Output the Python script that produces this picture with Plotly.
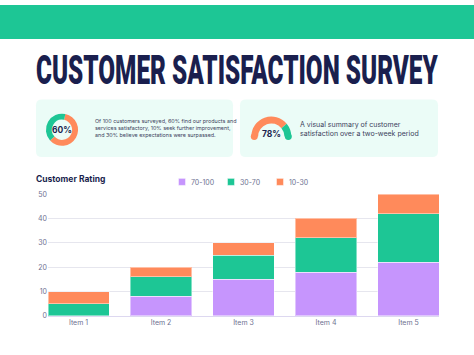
import plotly.graph_objects as go

W, H = 474, 355

# ---- data ----
items = ["Item 1", "Item 2", "Item 3", "Item 4", "Item 5"]
rating_70_100 = [0, 8, 15, 18, 22]
rating_30_70 = [5, 8, 10, 14, 20]
rating_10_30 = [5, 4, 5, 8, 8]
series_names = ["70-100", "30-70", "10-30"]
y_ticks = [0, 10, 20, 30, 40, 50]

donut_values = [60, 40]          # satisfied vs rest
gauge_value = 78                  # percent
title_text = "CUSTOMER SATISFACTION SURVEY"
chart_title = "Customer Rating"
summary_text = ("Of 100 customers surveyed, 60% find our products and<br>"
                "services satisfactory, 10% seek further improvement,<br>"
                "and 30% believe expectations were surpassed.")
gauge_text = "A visual summary of customer<br>satisfaction over a two-week period"

# ---- style ----
GREEN = "#1DC695"
ORANGE = "#FF8A5B"
PURPLE = "#C695FD"
NAVY = "#1A1F4E"
GRAY = "#6E7191"
CARD = "#EBFCF7"
FONT = "Inter, Noto Sans, sans-serif"


def px(x):
    return x / W


def py(y):
    return 1 - y / H


def rounded_rect(x0, y0, x1, y1, rad):
    """SVG path (paper units) for a rounded rectangle given in pixel coords."""
    pts = [
        "M%f,%f" % (px(x0 + rad), py(y0)),
        "L%f,%f" % (px(x1 - rad), py(y0)),
        "Q%f,%f %f,%f" % (px(x1), py(y0), px(x1), py(y0 + rad)),
        "L%f,%f" % (px(x1), py(y1 - rad)),
        "Q%f,%f %f,%f" % (px(x1), py(y1), px(x1 - rad), py(y1)),
        "L%f,%f" % (px(x0 + rad), py(y1)),
        "Q%f,%f %f,%f" % (px(x0), py(y1), px(x0), py(y1 - rad)),
        "L%f,%f" % (px(x0), py(y0 + rad)),
        "Q%f,%f %f,%f" % (px(x0), py(y0), px(x0 + rad), py(y0)),
        "Z",
    ]
    return " ".join(pts)


fig = go.Figure()

colors = [PURPLE, GREEN, ORANGE]
for name, vals, col in zip(series_names, [rating_70_100, rating_30_70, rating_10_30], colors):
    fig.add_trace(go.Bar(
        x=items, y=vals, name=name,
        marker=dict(color=col, line=dict(color="rgba(255,255,255,0.45)", width=1)),
        hoverinfo="skip",
    ))

# donut
cx, cy, r = 62, 128, 16.5
fig.add_trace(go.Pie(
    values=donut_values, sort=False, direction="clockwise", rotation=12,
    hole=0.63, marker=dict(colors=[ORANGE, GREEN], line=dict(width=0)),
    textinfo="none", hoverinfo="skip", showlegend=False,
    domain=dict(x=[px(cx - r), px(cx + r)], y=[py(cy + r), py(cy - r)]),
))

# gauge (half donut)
gx, gy, gr = 271.3, 135, 20.5
gauge_vals = [gauge_value, 100 - gauge_value, 100]
fig.add_trace(go.Pie(
    values=gauge_vals, sort=False, direction="clockwise", rotation=-90,
    hole=0.66, marker=dict(colors=[ORANGE, GREEN, "rgba(0,0,0,0)"], line=dict(width=0)),
    textinfo="none", hoverinfo="skip", showlegend=False,
    domain=dict(x=[px(gx - gr), px(gx + gr)], y=[py(gy + gr), py(gy - gr)]),
))

shapes = []
# top band
shapes.append(dict(type="rect", xref="paper", yref="paper", x0=0, x1=1, y0=py(35), y1=1,
                   fillcolor=GREEN, line=dict(width=0), layer="below"))
# cards
for x0, x1 in [(36, 233), (240, 438)]:
    shapes.append(dict(type="path", xref="paper", yref="paper",
                       path=rounded_rect(x0, 97, x1, 156, 6),
                       fillcolor=CARD, line=dict(width=0), layer="below"))
# gauge rounded caps
th = gr * (1 - 0.66)
capr = th / 2
mid = gr - capr
shapes.append(dict(type="circle", xref="paper", yref="paper",
                   x0=px(gx - mid - capr), x1=px(gx - mid + capr),
                   y0=py(gy + capr), y1=py(gy - capr), fillcolor=ORANGE, line=dict(width=0)))
shapes.append(dict(type="circle", xref="paper", yref="paper",
                   x0=px(gx + mid - capr), x1=px(gx + mid + capr),
                   y0=py(gy + capr), y1=py(gy - capr), fillcolor=GREEN, line=dict(width=0)))

annotations = [
    dict(text=title_text, x=px(237), y=py(66.5), xref="paper", yref="paper",
         showarrow=False, xanchor="center", yanchor="middle",
         font=dict(family="Roboto, Inter, sans-serif", size=30, weight=900, color=NAVY)),
    dict(text="<b>%d%%</b>" % donut_values[0], x=px(cx), y=py(cy), xref="paper", yref="paper",
         showarrow=False, xanchor="center", yanchor="middle",
         font=dict(family=FONT, size=8.5, color=NAVY)),
    dict(text="<b>%d%%</b>" % gauge_value, x=px(gx), y=py(132), xref="paper", yref="paper",
         showarrow=False, xanchor="center", yanchor="middle",
         font=dict(family=FONT, size=8.5, color=NAVY)),
    dict(text=summary_text, x=px(93), y=py(126.5), xref="paper", yref="paper",
         showarrow=False, xanchor="left", yanchor="middle", align="left",
         font=dict(family=FONT, size=5.4, color="#3B3F5C")),
    dict(text=gauge_text, x=px(298), y=py(127.5), xref="paper", yref="paper",
         showarrow=False, xanchor="left", yanchor="middle", align="left",
         font=dict(family=FONT, size=7, color="#3B3F5C")),
    dict(text="<b>%s</b>" % chart_title, x=px(34), y=py(179), xref="paper", yref="paper",
         showarrow=False, xanchor="left", yanchor="middle",
         font=dict(family=FONT, size=8.5, color=NAVY)),
]

fig.update_layout(
    width=W, height=H,
    margin=dict(l=0, r=0, t=0, b=0),
    paper_bgcolor="white", plot_bgcolor="white",
    barmode="stack", bargap=0.26,
    font=dict(family=FONT, size=7, color=GRAY),
    shapes=shapes, annotations=annotations,
    showlegend=True,
    legend=dict(orientation="h", x=px(162), y=py(181.5), xanchor="left", yanchor="middle",
                traceorder="normal", font=dict(size=7, color=GRAY), bgcolor="rgba(0,0,0,0)",
                itemwidth=30, entrywidth=4, entrywidthmode="pixels"),
    xaxis=dict(domain=[px(48), px(439)], range=[-0.37, 4.37], showgrid=False,
               showline=True, linecolor="#DDD8F0", linewidth=1, ticks="",
               tickfont=dict(size=7, color=GRAY), fixedrange=True),
    yaxis=dict(domain=[py(319), py(194)], range=[0, 50], tickvals=y_ticks,
               showgrid=True, gridcolor="#E6E6EE", gridwidth=1, zeroline=False,
               ticks="", tickfont=dict(size=7, color=GRAY), fixedrange=True),
)

# page placement (no body margin), compact legend (small square keys, tight
# text gap, unclipped), and the condensed-title stretch to the reference's
# poster lettering (target width 402 px, cap height ~29 px)
post = """
document.body.style.margin='0';
document.documentElement.style.overflow='hidden';
var gd=document.getElementById('{plot_id}');
gd.style.position='absolute'; gd.style.left='0px'; gd.style.top='0px';
gd.querySelectorAll('.legend [clip-path]').forEach(function(e){ e.removeAttribute('clip-path'); });
gd.querySelectorAll('.legend .legendpoints path').forEach(function(p){ p.setAttribute('d','M3.5,3.5H-3.5V-3.5H3.5Z'); });
gd.querySelectorAll('.legend text.legendtext').forEach(function(t){
  t.setAttribute('x','29');
  t.querySelectorAll('tspan[x]').forEach(function(s){ s.setAttribute('x','29'); });
});
gd.querySelectorAll('text.annotation-text').forEach(function(t){
  if(t.textContent.indexOf('CUSTOMER SATISFACTION')===0){
    var b=t.getBBox();
    var sx=402/b.width, sy=1.36;
    var cx=b.x+b.width/2, cy=b.y+b.height/2;
    t.setAttribute('transform','translate('+cx+','+cy+') scale('+sx+','+sy+') translate('+(-cx)+','+(-cy)+')');
  }
});
"""

fig.write_html("out.html", post_script=post, config={"displayModeBar": False, "staticPlot": True})
